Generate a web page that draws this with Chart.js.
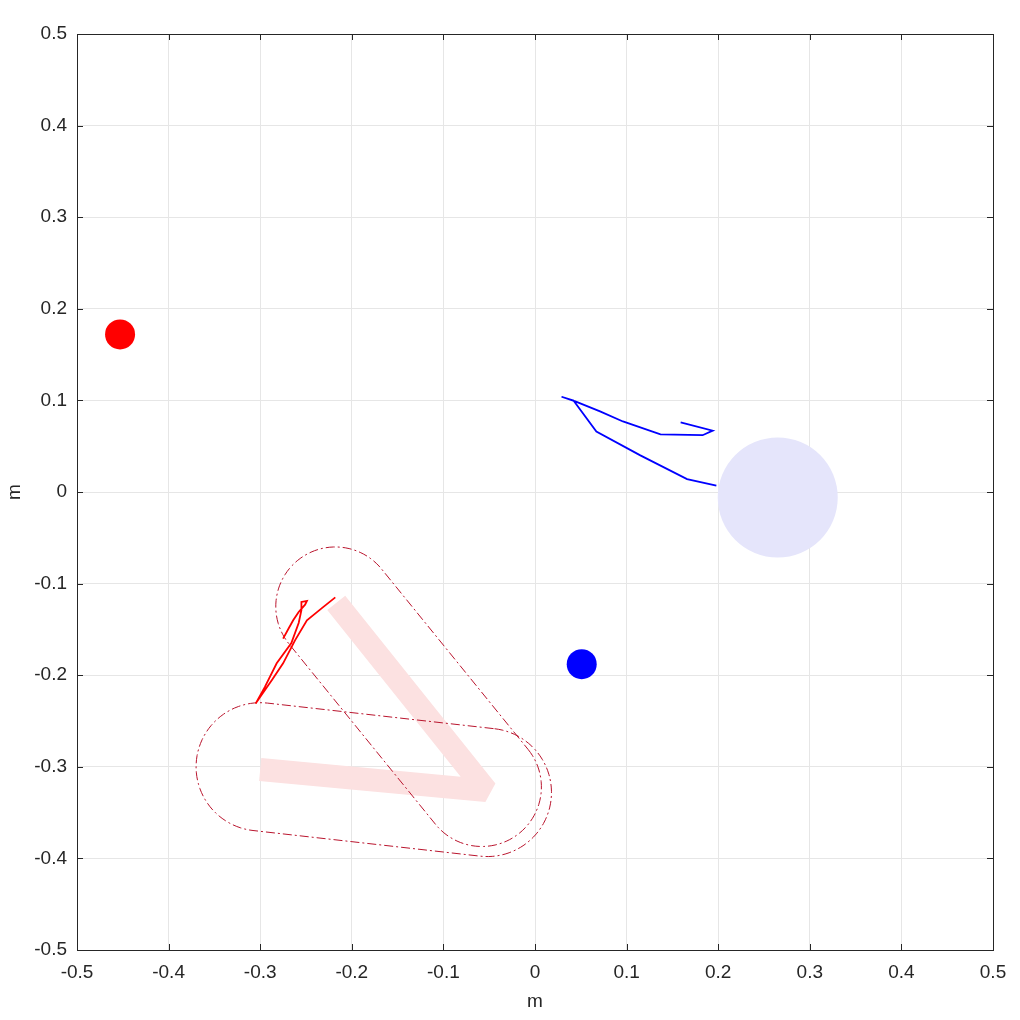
<!DOCTYPE html>
<html>
<head>
<meta charset="utf-8">
<script src="https://cdn.jsdelivr.net/npm/chart.js@4/dist/chart.umd.min.js"></script>
<style>
  html, body { margin: 0; padding: 0; background: #ffffff; }
  #wrap { width: 1020px; height: 1020px; }
</style>
</head>
<body>
<div id="wrap"><canvas id="c" width="1020" height="1020"></canvas></div>
<script>
// ---- data ----
const tickValues = [-0.5, -0.4, -0.3, -0.2, -0.1, 0, 0.1, 0.2, 0.3, 0.4, 0.5];
const tickLabels = ['-0.5', '-0.4', '-0.3', '-0.2', '-0.1', '0', '0.1', '0.2', '0.3', '0.4', '0.5'];
const xTitle = 'm';
const yTitle = 'm';

// red trajectory
const redX = [-0.218, -0.233, -0.249, -0.262, -0.275, -0.287, -0.305, -0.295, -0.282, -0.266, -0.258, -0.255, -0.255, -0.249, -0.251, -0.258, -0.264, -0.269, -0.275];
const redY = [-0.115, -0.127, -0.140, -0.162, -0.187, -0.205, -0.231, -0.213, -0.187, -0.165, -0.143, -0.129, -0.120, -0.119, -0.123, -0.131, -0.140, -0.149, -0.160];

// blue trajectory
const blueX = [0.159, 0.194, 0.183, 0.137, 0.096, 0.071, 0.044, 0.029, 0.042, 0.067, 0.115, 0.166, 0.198];
const blueY = [0.076, 0.067, 0.062, 0.063, 0.077, 0.088, 0.099, 0.104, 0.100, 0.066, 0.040, 0.014, 0.007];

// thick pink reference path
const bandX = [-0.217, -0.053, -0.300];
const bandY = [-0.121, -0.326, -0.303];

// markers
const redDot = { x: -0.453, y: 0.172 };
const blueDot = { x: 0.051, y: -0.188 };
const goalCircle = { x: 0.265, y: -0.006 };

// capsule outlines: endpoints and radius
const capsuleA = { x1: -0.218, y1: -0.125, x2: -0.058, y2: -0.322, r: 0.065 };
const capsuleB = { x1: -0.300, y1: -0.300, x2: -0.052, y2: -0.328, r: 0.070 };

// ---- helpers ----
function zip(xs, ys) { return xs.map((x, i) => ({ x: x, y: ys[i] })); }
function capsuleOutline(c, n) {
  const dx = c.x2 - c.x1, dy = c.y2 - c.y1;
  const a = Math.atan2(dy, dx);
  const pts = [];
  for (let i = 0; i <= n; i++) {
    const t = a + Math.PI / 2 - Math.PI * i / n;
    pts.push({ x: c.x2 + c.r * Math.cos(t), y: c.y2 + c.r * Math.sin(t) });
  }
  for (let i = 0; i <= n; i++) {
    const t = a - Math.PI / 2 - Math.PI * i / n;
    pts.push({ x: c.x1 + c.r * Math.cos(t), y: c.y1 + c.r * Math.sin(t) });
  }
  pts.push(pts[0]);
  return pts;
}

const axisColor = '#262626';
const font = { family: '"Liberation Sans", Arial, Helvetica, sans-serif', size: 19 };

const boxPlugin = {
  id: 'boxPlugin',
  afterDraw(chart) {
    const { ctx, chartArea: a, scales } = chart;
    ctx.save();
    ctx.strokeStyle = axisColor;
    ctx.lineWidth = 1;
    const L = 6;
    ctx.beginPath();
    tickValues.forEach(v => {
      const px = Math.round(scales.x.getPixelForValue(v)) + 0.5;
      ctx.moveTo(px, a.bottom); ctx.lineTo(px, a.bottom - L);
      ctx.moveTo(px, a.top); ctx.lineTo(px, a.top + L);
      const py = Math.round(scales.y.getPixelForValue(v)) + 0.5;
      ctx.moveTo(a.left, py); ctx.lineTo(a.left + L, py);
      ctx.moveTo(a.right, py); ctx.lineTo(a.right - L, py);
    });
    ctx.stroke();
    ctx.strokeRect(Math.round(a.left) + 0.5, Math.round(a.top) + 0.5,
                   Math.round(a.right - a.left), Math.round(a.bottom - a.top));
    ctx.restore();
  }
};

function setTicks(scale) {
  scale.ticks = tickValues.map(v => ({ value: v }));
}

new Chart(document.getElementById('c'), {
  type: 'scatter',
  data: {
    datasets: [
      { data: [redDot], pointRadius: 15, pointHoverRadius: 15,
        backgroundColor: '#ff0000', borderColor: '#ff0000', borderWidth: 0, order: 0 },
      { data: [blueDot], pointRadius: 15, pointHoverRadius: 15,
        backgroundColor: '#0000ff', borderColor: '#0000ff', borderWidth: 0, order: 1 },
      { data: zip(redX, redY), showLine: true, pointRadius: 0,
        borderColor: '#ff0000', borderWidth: 1.8, tension: 0, order: 2 },
      { data: zip(blueX, blueY), showLine: true, pointRadius: 0,
        borderColor: '#0000ff', borderWidth: 1.8, tension: 0, order: 3 },
      { data: capsuleOutline(capsuleA, 48), showLine: true, pointRadius: 0,
        borderColor: 'rgb(185,20,45)', borderWidth: 1, borderDash: [9, 3, 2, 3], order: 4 },
      { data: capsuleOutline(capsuleB, 48), showLine: true, pointRadius: 0,
        borderColor: 'rgb(185,20,45)', borderWidth: 1, borderDash: [9, 3, 2, 3], order: 5 },
      { data: [goalCircle], pointRadius: 60, pointHoverRadius: 60,
        backgroundColor: 'rgb(229,229,251)', borderWidth: 0, order: 6 },
      { data: zip(bandX, bandY), showLine: true, pointRadius: 0,
        borderColor: 'rgb(252,225,225)', borderWidth: 23,
        borderJoinStyle: 'bevel', borderCapStyle: 'butt', tension: 0, order: 7 }
    ]
  },
  options: {
    responsive: false,
    animation: false,
    events: [],
    layout: { autoPadding: false, padding: { left: 0, top: 34, right: 27, bottom: 0 } },
    plugins: { legend: { display: false }, tooltip: { enabled: false } },
    scales: {
      x: {
        type: 'linear', min: -0.5, max: 0.5,
        afterBuildTicks: setTicks,
        afterFit(s) { s.height = 70; s.paddingLeft = 0; s.paddingRight = 0; },
        grid: { color: '#e6e6e6', drawTicks: false, lineWidth: 1 },
        border: { display: false },
        ticks: { color: axisColor, font: font, padding: 11, maxRotation: 0,
                 callback: (v, i) => tickLabels[i] },
        title: { display: true, text: xTitle, color: axisColor, font: font, padding: { top: 0, bottom: 7 } }
      },
      y: {
        type: 'linear', min: -0.5, max: 0.5,
        afterBuildTicks: setTicks,
        afterFit(s) { s.width = 77; s.paddingTop = 0; s.paddingBottom = 0; },
        grid: { color: '#e6e6e6', drawTicks: false, lineWidth: 1 },
        border: { display: false },
        ticks: { color: axisColor, font: font, padding: 10,
                 callback: (v, i) => tickLabels[i] },
        title: { display: true, text: yTitle, color: axisColor, font: font, padding: { top: 3, bottom: 0 } }
      }
    }
  },
  plugins: [boxPlugin]
});
</script>
</body>
</html>
